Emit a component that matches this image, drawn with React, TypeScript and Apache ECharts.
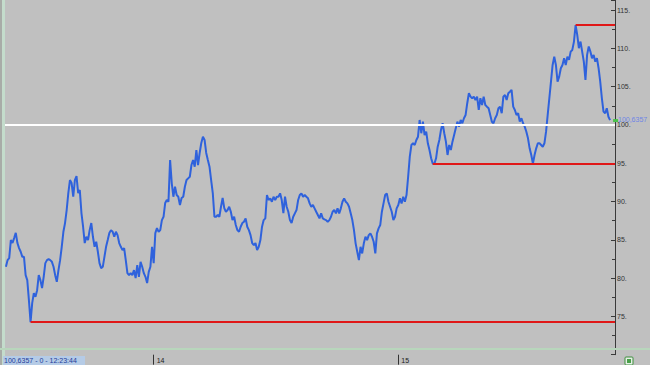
import React, { useEffect, useRef } from 'react';
import * as echarts from 'echarts';

// Price series (in time order)
const prices: number[] = [
  81.48, 82.35, 82.61, 84.97, 84.58, 85.23, 85.92, 84.58, 83.92, 83.44,
  82.78, 82.78, 80.39, 79.74, 77.12, 74.25, 76.73, 78.04, 77.56, 78.43,
  80.39, 79.74, 78.69, 80.17, 81.96, 82.35, 82.48, 82.35, 82.13, 81.48,
  80.39, 79.52, 81.05, 82.35, 84.09, 86.05, 87.19, 88.89, 91.11, 92.81,
  92.42, 90.63, 92.81, 93.33, 91.11, 91.5, 88.5, 86.71, 84.58, 85.4,
  84.97, 86.27, 87.19, 85.4, 84.09, 84.75, 83.44, 81.96, 81.31, 81.48,
  82.78, 84.09, 84.97, 85.88, 86.27, 86.05, 85.4, 86.05, 85.62, 84.58,
  84.09, 83.66, 83.92, 82.35, 80.65, 80.39, 80.65, 80.39, 81.05, 80.0,
  81.7, 80.17, 82.13, 81.48, 80.65, 80.17, 79.35, 80.82,
  81.48, 84.09, 81.96, 85.88, 86.54, 86.05, 86.27, 87.58, 88.01, 89.8,
  90.2, 89.97, 95.42, 92.42, 90.63, 91.93, 90.85, 90.63, 89.54, 90.46,
  90.63, 91.93, 92.81, 93.03, 93.24, 94.77, 95.42, 94.55, 96.73, 94.77,
  96.34, 97.65, 98.47, 98.04, 96.34, 95.42, 94.55, 92.81, 91.11, 88.01,
  88.01, 88.24, 88.01, 89.32, 90.46, 89.15, 88.67, 88.89, 89.32, 88.67,
  87.58, 88.01, 86.93, 86.27, 86.05, 86.71, 87.19, 87.36, 87.8, 86.71,
  86.27, 85.62, 84.58, 84.31, 84.58, 83.66, 84.09, 84.97, 86.71, 87.58,
  87.8, 90.85, 90.2, 90.42, 89.97, 90.63, 90.2, 90.63, 90.63, 91.07,
  90.2, 88.5, 90.63, 89.32, 88.67, 87.58, 87.19, 88.01, 88.46, 88.89,
  90.2,
  90.85, 91.07, 90.63, 90.85, 90.63, 90.42, 89.76, 89.32, 89.54, 89.11,
  88.67, 88.24, 87.8, 88.46, 87.8, 87.67, 87.58, 87.36, 87.58, 88.01,
  88.67, 88.89, 88.46, 89.11, 88.46, 89.11, 89.97, 90.42, 89.97, 89.76,
  89.32, 88.46, 87.58, 86.27, 84.54, 83.44, 82.35, 84.09, 83.23, 84.54,
  85.4, 84.97, 85.62, 85.84, 85.4, 84.75, 83.23, 85.84, 86.5, 86.93,
  88.67, 89.76, 90.85, 91.07, 89.97, 89.32, 88.67, 87.58, 88.01, 89.11,
  89.54, 90.42, 89.76, 90.63, 89.97, 90.85, 93.24, 95.86, 97.39, 97.61,
  97.39, 98.04, 98.47, 100.65, 98.92, 100.43, 98.69, 99.12, 97.61, 96.73,
  95.65, 94.95, 94.95, 95.65, 97.16, 98.04, 99.35, 100.22, 98.92, 97.82,
  96.08, 97.39, 96.73,
  97.82, 98.69, 99.57, 100.43, 99.78, 100.65, 100.22, 100.88, 101.31, 102.84,
  104.14, 103.7, 103.49, 103.7, 103.27, 103.7, 101.96, 103.49, 102.61, 103.7,
  102.61, 102.39, 102.18, 101.31, 100.43, 100.22, 100.88, 101.31, 102.18, 102.39,
  101.53, 103.7, 103.92, 103.27, 104.14, 104.35, 104.58, 102.39, 101.96, 101.31,
  101.53, 100.43, 100.88, 100.22, 99.78, 99.12, 98.26, 96.95, 96.08, 94.95,
  96.08, 96.95, 97.61, 97.61, 97.39, 97.16, 97.61, 99.12, 101.31, 103.49,
  105.66, 107.84, 108.93, 107.84, 105.66, 106.31, 107.41, 107.84, 108.72, 107.84,
  108.93, 108.5, 109.58, 109.8, 110.89, 113.05, 111.76, 110.03, 110.89, 109.58,
  108.27, 105.88, 109.15, 110.24, 109.58, 108.72, 109.15, 108.27, 108.72, 107.41,
  105.66, 103.49, 101.74, 101.53, 102.18, 101.08, 100.64,
];

// empty time slots before the first and after the last price
const leadSlots = 3;
const tailSlots = 3;

// day labels on the time axis and the slot where each day starts
const dayLabels = ['14', '15'];
const dayStartSlot = [93, 242];

// horizontal levels
const referenceLevel = 100;
const extremeLevels = [74.25, 94.95, 113.05];

// value axis
const yMin = 70;
const yMax = 116.32;
const yStep = 5;

// texts
const lastPriceText = '100,6357';
const statusText = '100,6357 - 0 - 12:23:44';

const FONT = 'Liberation Sans, DejaVu Sans, sans-serif';

export default function App() {
  const ref = useRef<HTMLDivElement>(null);

  useEffect(() => {
    if (!ref.current) return;
    const chart = echarts.init(ref.current, null, { renderer: 'svg' });

    const seriesData: (number | null)[] = [
      ...Array(leadSlots).fill(null),
      ...prices,
      ...Array(tailSlots).fill(null),
    ];
    const categories = seriesData.map((_, i) => String(i));
    const lastSlot = categories.length - 1;
    const lastPriceSlot = leadSlots + prices.length - 1;
    const isDayStart = (i: number) => dayStartSlot.indexOf(i) >= 0;

    const levelLines = extremeLevels.map((lvl) => {
      const start = seriesData.indexOf(lvl);
      return [
        { coord: [start, lvl], lineStyle: { color: '#e01818', width: 2, type: 'solid' } },
        { coord: [lastSlot, lvl] },
      ];
    });

    chart.setOption({
      animation: false,
      backgroundColor: '#c0c0c0',
      grid: { left: 1, right: 35, top: 0, bottom: 10.3, containLabel: false },
      xAxis: {
        type: 'category',
        data: categories,
        boundaryGap: false,
        axisLine: { show: false },
        axisTick: {
          show: true,
          interval: (i: number) => isDayStart(i),
          length: 10,
          lineStyle: { color: '#333', width: 1 },
        },
        axisLabel: {
          show: true,
          interval: (i: number) => isDayStart(i),
          formatter: (_v: string, i: number) => {
            const k = dayStartSlot.indexOf(i);
            return k >= 0 ? dayLabels[k] : '';
          },
          align: 'left',
          margin: 2,
          padding: [0, 0, 0, 3],
          fontSize: 7,
          fontFamily: FONT,
          color: '#222',
        },
        splitLine: { show: false },
      },
      yAxis: {
        type: 'value',
        position: 'right',
        min: yMin,
        max: yMax,
        interval: yStep,
        axisLine: { show: true, lineStyle: { color: '#3a3a3a', width: 1 } },
        axisTick: { show: true, inside: true, length: 4, lineStyle: { color: '#3a3a3a' } },
        minorTick: { show: true, splitNumber: 2, length: 3, lineStyle: { color: '#3a3a3a' } },
        axisLabel: {
          show: true,
          margin: 2,
          fontSize: 7,
          fontFamily: FONT,
          color: '#333',
          formatter: (v: number) => (v < 72 || v > 115.5 ? '' : `${v}.`),
        },
        splitLine: { show: false },
      },
      series: [
        {
          type: 'line',
          data: seriesData,
          showSymbol: false,
          symbol: 'none',
          connectNulls: false,
          lineStyle: { color: '#2f62dc', width: 2 },
          z: 3,
          markLine: {
            silent: true,
            symbol: ['none', 'none'],
            label: { show: false },
            animation: false,
            data: [
              { yAxis: referenceLevel, lineStyle: { color: '#ffffff', width: 2, type: 'solid' } },
              ...levelLines,
            ],
          },
        },
      ],
    });

    const [px, py] = chart.convertToPixel({ xAxisIndex: 0, yAxisIndex: 0 }, [
      lastPriceSlot,
      prices[prices.length - 1],
    ]) as number[];
    const [axisX] = chart.convertToPixel({ xAxisIndex: 0, yAxisIndex: 0 }, [lastSlot, yMin]) as number[];

    chart.setOption({
      graphic: [
        // left border
        { type: 'rect', z: 100, shape: { x: 0, y: 0, width: 2, height: 365 }, style: { fill: '#a8aca8' } },
        { type: 'rect', z: 100, shape: { x: 2, y: 0, width: 3, height: 365 }, style: { fill: '#c4dccc' } },
        // bottom strip line
        { type: 'rect', z: 100, shape: { x: 0, y: 348, width: 650, height: 2 }, style: { fill: '#b8d6bc' } },
        // last price marker
        { type: 'rect', z: 101, shape: { x: px + 3, y: py - 1, width: 5, height: 3 }, style: { fill: '#49c24a' } },
        {
          type: 'text',
          z: 101,
          x: axisX + 3,
          y: py - 1,
          style: {
            text: lastPriceText,
            fill: '#6f86e6',
            fontSize: 7,
            fontFamily: FONT,
            verticalAlign: 'middle',
            align: 'left',
          },
        },
        // status box
        { type: 'rect', z: 101, shape: { x: 3, y: 356, width: 82, height: 9 }, style: { fill: '#b5cbe6' } },
        {
          type: 'text',
          z: 102,
          x: 4,
          y: 360.5,
          style: {
            text: statusText,
            fill: '#1e3c9a',
            fontSize: 7,
            fontFamily: FONT,
            verticalAlign: 'middle',
            align: 'left',
          },
        },
        // bottom-right icon
        { type: 'rect', z: 101, shape: { x: 625, y: 357, width: 8, height: 8, r: 1 }, style: { fill: '#e6efe6', stroke: '#3f8f3f', lineWidth: 1 } },
        { type: 'rect', z: 102, shape: { x: 627, y: 359, width: 4, height: 4 }, style: { fill: '#4aa04a' } },
      ],
    });

    return () => chart.dispose();
  }, []);

  return <div ref={ref} style={{ width: 650, height: 365, position: 'absolute', left: 0, top: 0 }} />;
}
